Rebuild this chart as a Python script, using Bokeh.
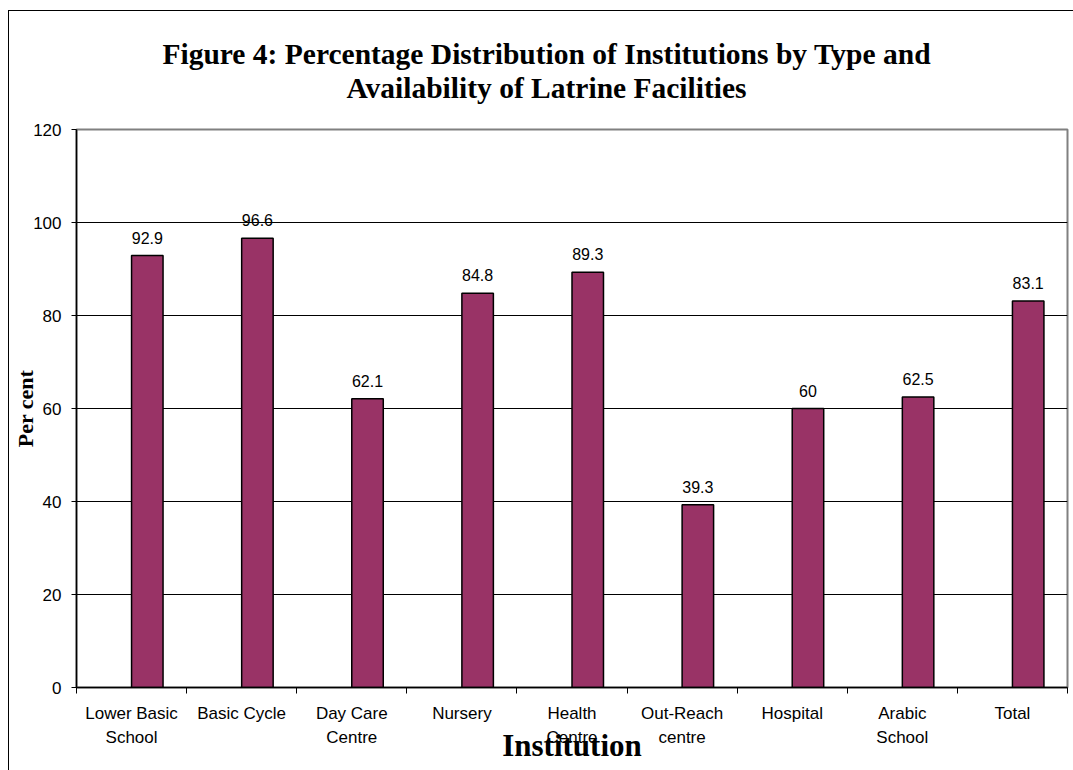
from bokeh.plotting import figure
from bokeh.layouts import column
from bokeh.models import Div, FixedTicker, Range1d
from bokeh.core.properties import value
from bokeh.embed import file_html
from bokeh.resources import INLINE
import numpy as np

# Institutions and share (%) with latrine facilities
institutions = ["Lower Basic\nSchool", "Basic Cycle", "Day Care\nCentre", "Nursery",
                "Health\nCentre", "Out-Reach\ncentre", "Hospital", "Arabic\nSchool", "Total"]
percent = [92.9, 96.6, 62.1, 84.8, 89.3, 39.3, 60.0, 62.5, 83.1]
y_ticks = [0, 20, 40, 60, 80, 100, 120]
title_lines = ["Figure 4: Percentage Distribution of Institutions by Type and",
               "Availability of Latrine Facilities"]

BAR_COLOR = "#993366"
SANS = "Liberation Sans"
SERIF = "Liberation Serif"
bar_w = 0.286

n = len(institutions)
centers = np.arange(n) + 0.5
bar_x = centers + bar_w / 2
labels = [f"{v:g}" for v in percent]

# heading block
title_html = (
    '<div style="display: block; width: 1064px; box-sizing: border-box; '
    'font-family: \'Liberation Serif\', serif; font-weight: bold; '
    'font-size: 29.5px; line-height: 34px; text-align: center; color: black; '
    'padding-top: 26px; padding-left: 11px; margin: 0;">'
    + "<br>".join(title_lines) + "</div>"
)
heading = Div(text=title_html, width=1064, height=100, margin=0)

p = figure(width=1064, height=659, output_backend="svg", toolbar_location=None,
           x_range=Range1d(0, n), y_range=Range1d(0, 120),
           min_border_left=67, min_border_right=6, min_border_top=18, min_border_bottom=83)
p.margin = 0
p.background_fill_color = "white"
p.border_fill_color = "white"
p.outline_line_color = "#808080"
p.outline_line_width = 2

# grid
p.xgrid.visible = False
p.ygrid.ticker = FixedTicker(ticks=y_ticks[1:-1])
p.ygrid.grid_line_color = "black"
p.ygrid.grid_line_width = 1

# bars and value labels
p.vbar(x=bar_x, top=percent, width=bar_w, fill_color=BAR_COLOR,
       line_color="black", line_width=1.5)
p.text(x=bar_x, y=percent, text=labels, text_align="center", text_baseline="alphabetic",
       y_offset=-18, text_font=value(SANS), text_font_size="16px", text_color="black")

# y axis
p.yaxis.ticker = FixedTicker(ticks=y_ticks)
p.yaxis.major_tick_out = 5
p.yaxis.major_tick_in = 0
p.yaxis.minor_tick_line_color = None
p.yaxis.axis_line_color = "black"
p.yaxis.axis_line_width = 1.5
p.yaxis.major_label_text_font = SANS
p.yaxis.major_label_text_font_size = "17px"
p.yaxis.major_label_text_color = "black"
p.yaxis.major_label_standoff = 10
p.yaxis.axis_label = "Per cent"
p.yaxis.axis_label_text_font = SERIF
p.yaxis.axis_label_text_font_style = "bold"
p.yaxis.axis_label_text_font_size = "22px"
p.yaxis.axis_label_text_color = "black"
p.yaxis.axis_label_standoff = -8

# x axis: category names at centres, tick marks on boundaries
p.xaxis.ticker = FixedTicker(ticks=list(centers), minor_ticks=list(range(n + 1)))
p.xaxis.major_label_overrides = {float(c): name for c, name in zip(centers, institutions)}
p.xaxis.major_tick_line_color = None
p.xaxis.major_tick_out = 0
p.xaxis.major_tick_in = 0
p.xaxis.minor_tick_out = 6
p.xaxis.minor_tick_in = 0
p.xaxis.minor_tick_line_color = "black"
p.xaxis.axis_line_color = "black"
p.xaxis.axis_line_width = 1.5
p.xaxis.major_label_text_font = SANS
p.xaxis.major_label_text_font_size = "17px"
p.xaxis.major_label_text_color = "black"
p.xaxis.major_label_text_line_height = 1.3
p.xaxis.major_label_standoff = 10
p.xaxis.axis_label = "Institution"
p.xaxis.axis_label_text_font = SERIF
p.xaxis.axis_label_text_font_style = "bold"
p.xaxis.axis_label_text_font_size = "31px"
p.xaxis.axis_label_text_color = "black"
p.xaxis.axis_label_standoff = -22

layout = column(heading, p, spacing=0)
layout.margin = (10, 0, 0, 8)
layout.styles = {"border-left": "1px solid black", "border-top": "1px solid black"}

open("out.html", "w").write(file_html(layout, INLINE))
